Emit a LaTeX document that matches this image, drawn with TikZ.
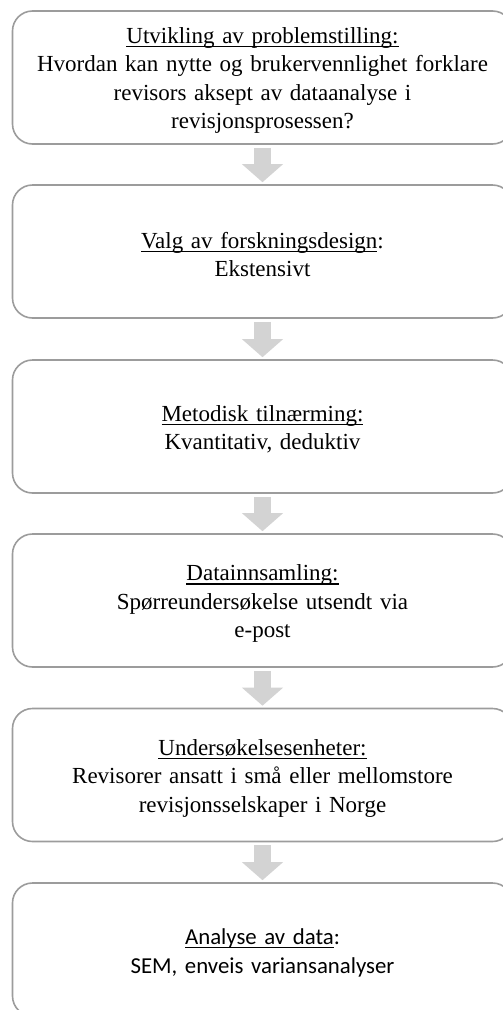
\documentclass[tikz,border=0pt]{standalone}
\usepackage{fontspec}
\setmainfont{Liberation Serif}
\newfontfamily\calib{Carlito}
\usetikzlibrary{arrows.meta}
\definecolor{boxline}{HTML}{9C9C9C}
\definecolor{arrowgray}{HTML}{D3D3D3}
\newcommand\myul[1]{\setbox0\hbox{#1}\rlap{\rule[-4pt]{\wd0}{1.2pt}}\box0}
\tikzset{
  stepbox/.style={draw=boxline, line width=1.6pt, rounded corners=20pt, fill=white,
    minimum width=500pt, minimum height=133pt, inner sep=0pt},
  boxtext/.style={align=center, text width=490pt, inner sep=0pt,
    font=\fontsize{23}{28.5}\selectfont},
  flowarrow/.style={draw=arrowgray, line width=17pt,
    -{Triangle[width=40pt,length=18pt]}, shorten <=3pt, shorten >=2pt}
}
\begin{document}
\begin{tikzpicture}[x=1pt,y=-1pt]
\useasboundingbox (0,0) rectangle (503,1010);
\clip (0,0) rectangle (503,1010);
\node[stepbox] (b1) at (262.5,77.5) {};
\node[stepbox] (b2) at (262.5,251.5) {};
\node[stepbox] (b3) at (262.5,426.5) {};
\node[stepbox] (b4) at (262.5,600.5) {};
\node[stepbox] (b5) at (262.5,775) {};
\node[stepbox] (b6) at (262.5,949.5) {};
\node[boxtext] (t1) at ([yshift=-3pt]b1.center) {\myul{Utvikling av problemstilling:}\\Hvordan kan nytte og brukervennlighet forklare\\revisors aksept av dataanalyse i\\revisjonsprosessen?};
\node[boxtext] (t2) at ([yshift=-3pt]b2.center) {\myul{Valg av forskningsdesign}:\\Ekstensivt};
\node[boxtext] (t3) at ([yshift=-3pt]b3.center) {\myul{Metodisk tilnærming:}\\Kvantitativ, deduktiv};
\node[boxtext] (t4) at ([yshift=-3pt]b4.center) {\myul{Datainnsamling:}\\Spørreundersøkelse utsendt via\\e-post};
\node[boxtext] (t5) at ([yshift=-3pt]b5.center) {\myul{Undersøkelsesenheter:}\\Revisorer ansatt i små eller mellomstore\\revisjonsselskaper i Norge};
\node[boxtext, font=\calib\fontsize{22.8}{29}\selectfont] (t6) at ([yshift=-3pt]b6.center) {\myul{Analyse av data}:\\SEM, enveis variansanalyser};
\draw[flowarrow] (b1.south) -- (b2.north);
\draw[flowarrow] (b2.south) -- (b3.north);
\draw[flowarrow] (b3.south) -- (b4.north);
\draw[flowarrow] (b4.south) -- (b5.north);
\draw[flowarrow] (b5.south) -- (b6.north);
\end{tikzpicture}
\end{document}
